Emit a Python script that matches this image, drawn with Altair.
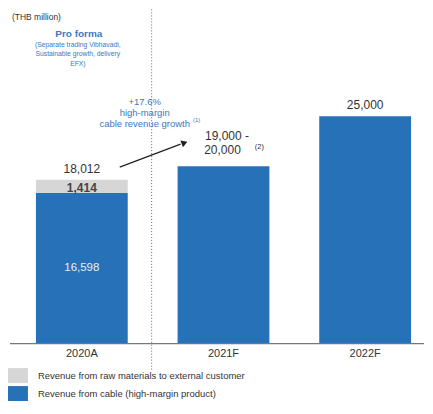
import altair as alt
import pandas as pd

categories = ["2020A", "2021F", "2022F"]
cable = [16598, 19500, 25000]
raw = [1414, 0, 0]
totals_text = ["18,012", "", "25,000"]
segments = ["Revenue from raw materials to external customer",
            "Revenue from cable (high-margin product)"]
colors = ["#d6d6d6", "#2771b8"]

rows = []
for c, v1, v2 in zip(categories, cable, raw):
    rows.append({"cat": c, "seg": segments[1], "val": v1, "order": 1})
    rows.append({"cat": c, "seg": segments[0], "val": v2, "order": 2})
df = pd.DataFrame(rows)

ymax = 36730
xscale = alt.Scale(domain=categories, paddingInner=0.352, paddingOuter=0.1444, align=0.683)
yscale = alt.Scale(domain=[0, ymax])
FONT = "Liberation Sans"
X = alt.X("cat:N", scale=xscale, sort=categories)

bars = alt.Chart(df).mark_bar(stroke=None).encode(
    x=alt.X("cat:N", scale=xscale, sort=categories,
            axis=alt.Axis(title=None, domain=False, ticks=False, labelFontSize=11,
                          labelColor="#333", labelFont=FONT, labelPadding=4, labelAngle=0)),
    y=alt.Y("sum(val):Q", scale=yscale, axis=None, stack="zero"),
    color=alt.Color("seg:N", scale=alt.Scale(domain=segments, range=colors),
                    legend=alt.Legend(title=None, orient="none", legendX=0, legendY=357,
                                      direction="vertical",
                                      symbolType="M-1,-0.75L1,-0.75L1,0.75L-1,0.75Z",
                                      symbolSize=400, symbolStrokeWidth=0,
                                      labelFontSize=9.5, labelColor="#333",
                                      labelFont=FONT, rowPadding=0, labelOffset=10, labelLimit=0,
                                      padding=0)),
    order=alt.Order("order:Q"),
)

tot_df = pd.DataFrame({"cat": categories, "total": [a + b for a, b in zip(cable, raw)], "txt": totals_text})
tot = alt.Chart(tot_df).mark_text(fontSize=12, color="#333", font=FONT, dy=-11).encode(
    x=X, y=alt.Y("total:Q", scale=yscale), text="txt:N")

in_df = pd.DataFrame({"cat": ["2020A"], "v": [cable[0] / 2], "txt": ["16,598"]})
inside = alt.Chart(in_df).mark_text(fontSize=11.5, color="#e8eef7", font=FONT).encode(
    x=X, y=alt.Y("v:Q", scale=yscale), text="txt:N")

raw_df = pd.DataFrame({"cat": ["2020A"], "v": [cable[0] + raw[0] / 2], "txt": ["1,414"]})
rawlab = alt.Chart(raw_df).mark_text(fontSize=12, fontWeight="bold", color="#444", font=FONT, dy=2).encode(
    x=X, y=alt.Y("v:Q", scale=yscale), text="txt:N")

rng_df = pd.DataFrame({"cat": ["2021F", "2021F"], "v": [cable[1], cable[1]],
                       "txt": ["19,000 -", "20,000"]})
rng1 = alt.Chart(rng_df.iloc[[0]]).mark_text(fontSize=12, color="#333", font=FONT, dy=-30, dx=3.5).encode(
    x=X, y=alt.Y("v:Q", scale=yscale), text="txt:N")
rng2 = alt.Chart(rng_df.iloc[[1]]).mark_text(fontSize=12, color="#333", font=FONT, dy=-16, dx=-1).encode(
    x=X, y=alt.Y("v:Q", scale=yscale), text="txt:N")
sup = alt.Chart(pd.DataFrame({"cat": ["2021F"], "v": [cable[1]], "txt": ["(2)"]})).mark_text(
    fontSize=7.5, color="#333", font=FONT, dy=-19, dx=36).encode(
    x=X, y=alt.Y("v:Q", scale=yscale), text="txt:N")

base = alt.Chart(pd.DataFrame({"z": [0]})).mark_rule(color="#777", strokeWidth=1.2).encode(
    y=alt.Y("z:Q", scale=yscale), x=alt.value(2), x2=alt.value(417))

divider = alt.Chart(pd.DataFrame({"z": [0]})).mark_rule(color="#666", strokeDash=[1, 2], strokeWidth=1).encode(
    x=alt.value(144), y=alt.value(0), y2=alt.value(363))

arrow = alt.Chart(pd.DataFrame({"z": [0]})).mark_rule(color="#222", strokeWidth=1.3).encode(
    x=alt.value(112), y=alt.value(158), x2=alt.value(173), y2=alt.value(135))
head = alt.Chart(pd.DataFrame({"z": [0]})).mark_point(shape="triangle", filled=True, color="#222",
                                                      size=50, angle=69, opacity=1).encode(
    x=alt.value(176), y=alt.value(134))

ann_lines = ["+17.6%", "high-margin", "cable revenue growth"]
ann_y = [93, 104, 115]
ann_df = pd.DataFrame({"t": ann_lines, "y": ann_y})
ann = alt.Chart(ann_df).mark_text(fontSize=9.5, color="#3a78c0", font=FONT, align="center").encode(
    x=alt.value(137), y=alt.Y("y:Q", scale=None), text="t:N")
ann_sup = alt.Chart(pd.DataFrame({"t": ["(1)"]})).mark_text(fontSize=6, color="#3a78c0", font=FONT).encode(
    x=alt.value(189), y=alt.value(111), text="t:N")

unit = alt.Chart(pd.DataFrame({"t": ["(THB million)"]})).mark_text(fontSize=8.5, color="#333", font=FONT, align="left").encode(
    x=alt.value(4), y=alt.value(8), text="t:N")
pf_lines = ["Pro forma", "(Separate trading Vibhavadi,", "Sustainable growth, delivery", "EFX)"]
pf_y = [25, 36, 45, 55]
pf_df = pd.DataFrame({"t": pf_lines, "y": pf_y})
pf1 = alt.Chart(pf_df.iloc[[0]]).mark_text(fontSize=10, fontWeight="bold", color="#3a78c0", font=FONT).encode(
    x=alt.value(71), y=alt.Y("y:Q", scale=None), text="t:N")
pf2 = alt.Chart(pf_df.iloc[1:]).mark_text(fontSize=6.8, color="#3a78c0", font=FONT).encode(
    x=alt.value(70), y=alt.Y("y:Q", scale=None), text="t:N")

chart = alt.layer(divider, bars, base, tot, inside, rawlab, rng1, rng2, sup, arrow, head,
                  ann, ann_sup, unit, pf1, pf2).properties(
    width=417, height=335, padding=0,
).configure_view(stroke=None).configure_axis(grid=False)

chart.save("out.html", embed_options={"renderer": "svg", "actions": False})
